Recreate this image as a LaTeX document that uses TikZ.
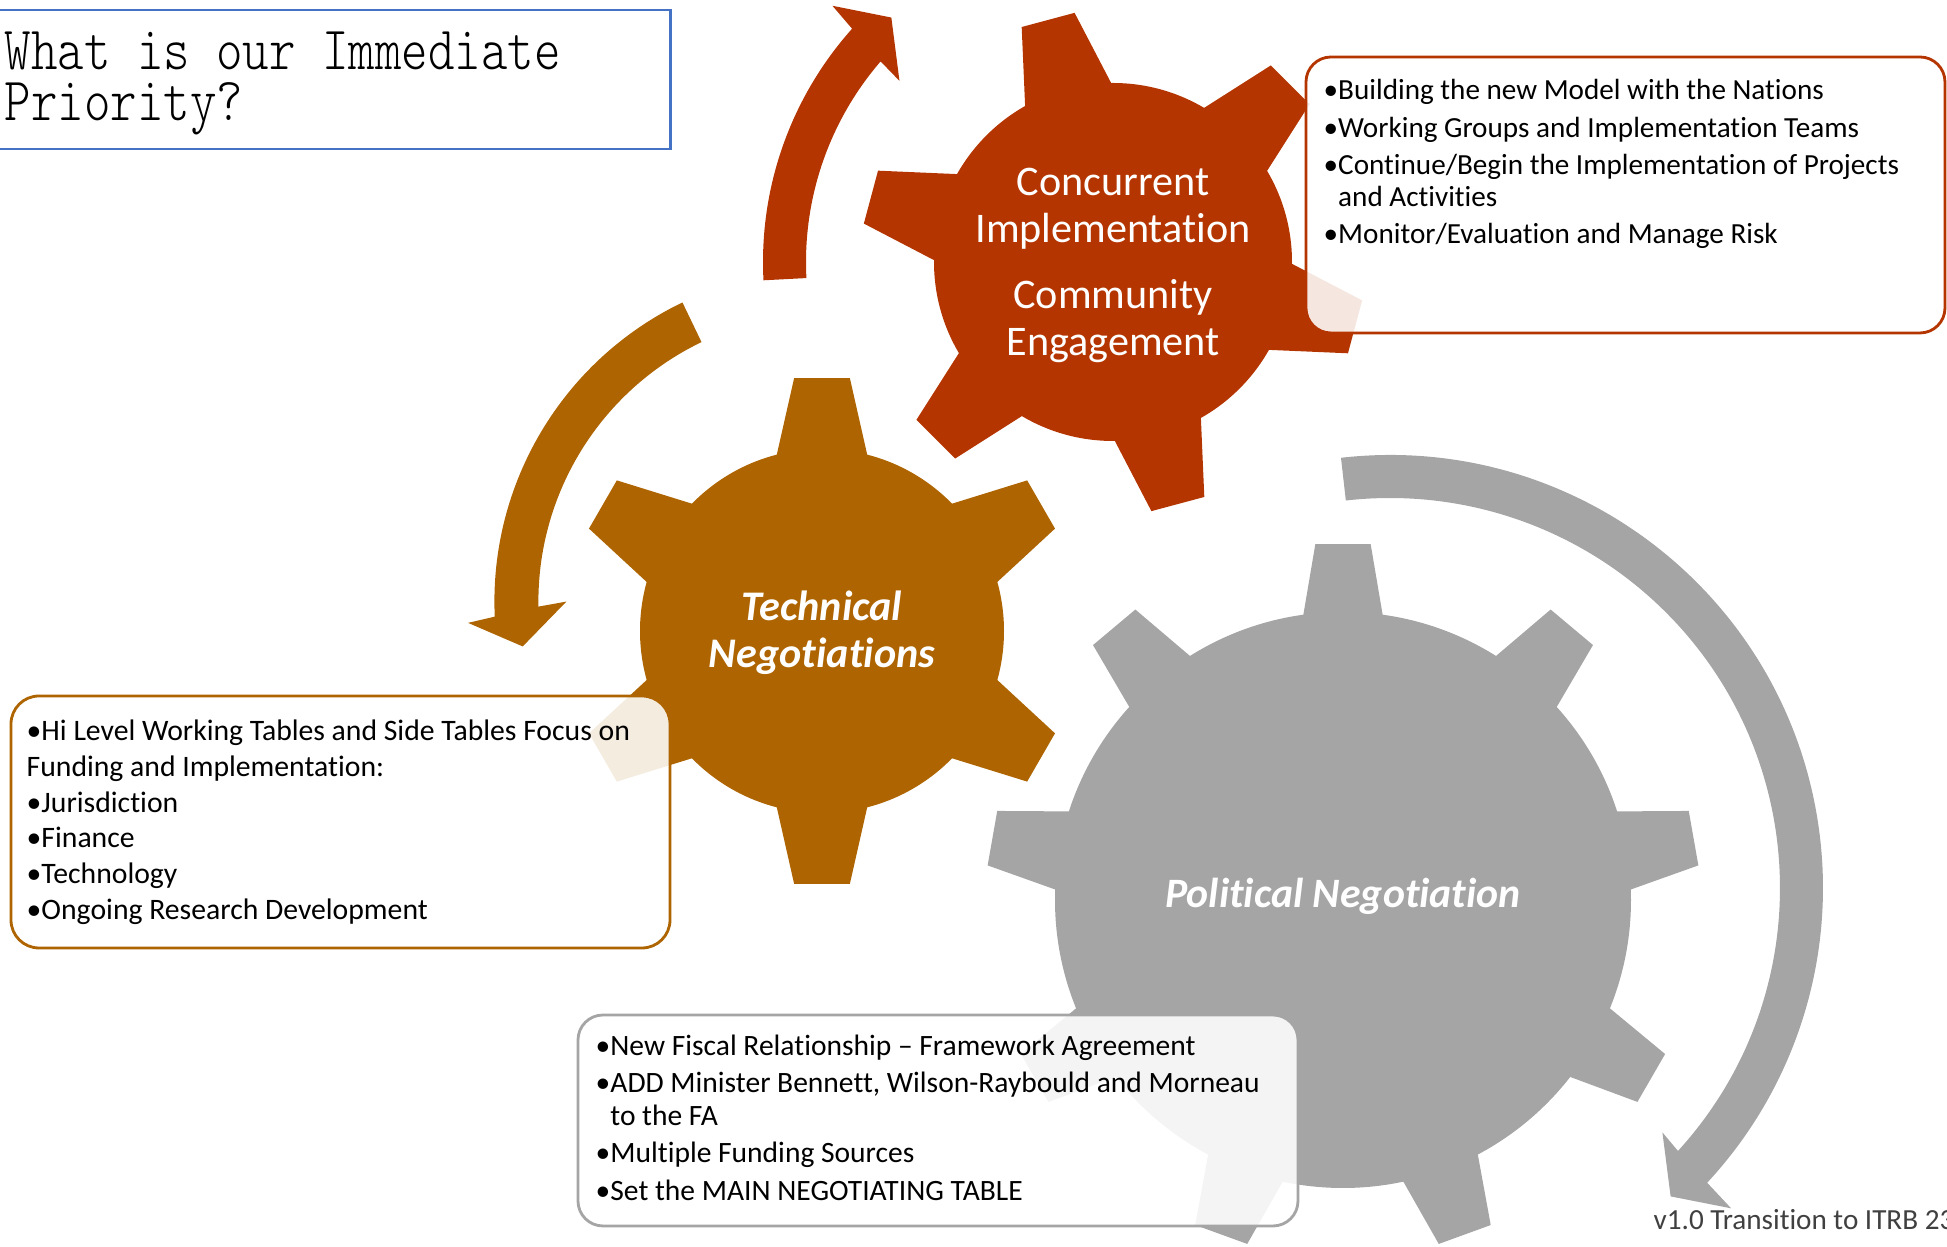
\documentclass[tikz,border=0pt]{standalone}
\usepackage{fontspec}
\setmainfont{Carlito}[Ligatures={NoCommon,NoContextual,NoRequired}, RawFeature={-liga;-clig;-dlig;-calt}]
\newfontfamily\asktitle{lmmonolt10-regular.otf}[FakeStretch=0.82]
\definecolor{rust}{RGB}{180,53,0}
\definecolor{ochre}{RGB}{174,100,0}
\definecolor{stone}{RGB}{165,165,165}
\definecolor{slideblue}{RGB}{68,114,196}
\definecolor{footgrey}{RGB}{64,64,64}

\begin{document}
\begin{tikzpicture}[
  gearlabel/.style={text=white, align=center, inner sep=0pt},
  notebox/.style={rounded corners=0.25cm, line width=0.8pt, fill=white, fill opacity=0.88},
  notetext/.style={align=left, inner sep=0pt, anchor=north west}
]
\useasboundingbox (0,0) rectangle (19.47,12.47);

\coordinate (redhub) at (11.13,9.85);
\coordinate (ochrehub) at (8.22,6.16);
\coordinate (stonehub) at (13.43,3.47);

% turning arrows round the gears
\begin{scope}[shift={(11.13,9.85)}]
\fill[rust] (183:3.50) arc[start angle=183, end angle=138.2, radius=3.50]
  -- (137.6:3.80) -- (132.2:3.30) -- (139.7:2.80) -- (139.2:3.07)
  arc[start angle=139.2, end angle=183, radius=3.07] -- cycle;
\end{scope}
\begin{scope}[shift={(8.264,6.454)}]
\fill[ochre] (115.7:3.32) arc[start angle=115.7, end angle=182.6, radius=3.32]
  -- (183.4:3.59) -- (188.4:3.07) -- (180:2.60) -- (181:2.88)
  arc[start angle=181, end angle=115.7, radius=2.88] -- cycle;
\end{scope}
\begin{scope}[shift={(13.90,3.59)}]
\fill[stone] (96.5:4.33) arc[start angle=96.5, end angle=-42.9, radius=4.33]
  -- (-43.2:4.68) -- (-47.7:4.17) -- (-41.9:3.66) -- (-42.4:3.90)
  arc[start angle=-42.4, end angle=96.5, radius=3.90] -- cycle;
\end{scope}

% gears
\begin{scope}[shift={(stonehub)}, scale=2.88]
\fill[stone] (0,0) circle (1);
\foreach \a in {10,50,...,330}
  \fill[stone, rotate=\a] (0.9,-0.153) -- (1.236,-0.096) -- (1.236,0.096) -- (0.9,0.153) -- cycle;
\end{scope}
\begin{scope}[shift={(ochrehub)}, scale=1.82]
\fill[ochre] (0,0) circle (1);
\foreach \a in {30,90,...,330}
  \fill[ochre, rotate=\a] (0.9,-0.264) -- (1.39,-0.153) -- (1.39,0.153) -- (0.9,0.264) -- cycle;
\end{scope}
\begin{scope}[shift={(redhub)}, scale=1.79]
\fill[rust] (0,0) circle (1);
\foreach \a in {45,105,...,345}
  \fill[rust, rotate=\a] (0.9,-0.264) -- (1.40,-0.153) -- (1.40,0.153) -- (0.9,0.264) -- cycle;
\end{scope}

\node[gearlabel, font=\fontsize{12}{13.3}\selectfont] (redlabel) at (11.13,9.815)
  {Concurrent\\Implementation\\[5.4pt]Community\\Engagement};
\node[gearlabel, font=\fontsize{12}{13.3}\selectfont\bfseries\itshape] (ochrelabel) at (8.22,6.14)
  {Technical\\Negotiations};
\node[gearlabel, anchor=base, font=\fontsize{11.9}{13}\selectfont\bfseries\itshape] (stonelabel) at (13.43,3.39)
  {Political Negotiation};

% note boxes
\draw[notebox, draw=rust] (13.06,11.90) rectangle (19.45,9.14);
\draw[notebox, draw=ochre, rounded corners=0.28cm] (0.11,5.51) rectangle (6.70,2.99);
\draw[notebox, draw=stone] (5.78,2.32) rectangle (12.98,0.21);

\node[notetext, font=\fontsize{8.3}{9}\selectfont] (nationsnotes) at (13.23,11.685)
  {•Building the new Model with the Nations\\[1.7pt]
   •Working Groups and Implementation Teams\\[1.7pt]
   •Continue/Begin the Implementation of Projects\\
   \phantom{•}and Activities\\[1.7pt]
   •Monitor/Evaluation and Manage Risk};
\node[notetext, font=\fontsize{8.45}{10.2}\selectfont] (tablenotes) at (0.26,5.28)
  {•Hi Level Working Tables and Side Tables Focus on\\
   Funding and Implementation:\\
   •Jurisdiction\\
   •Finance\\
   •Technology\\
   •Ongoing Research Development};
\node[notetext, font=\fontsize{8.4}{9.2}\selectfont] (fiscalnotes) at (5.95,2.13)
  {•New Fiscal Relationship – Framework Agreement\\[1.5pt]
   •ADD Minister Bennett, Wilson-Raybould and Morneau\\
   \phantom{•}to the FA\\[1.5pt]
   •Multiple Funding Sources\\[1.5pt]
   •Set the MAIN NEGOTIATING TABLE};

% title and footer
\draw[slideblue, line width=0.8pt] (-0.05,12.37) rectangle (6.705,10.98);
\node[notetext, font=\asktitle\fontsize{17.5}{14.6}\selectfont] (question) at (0.04,12.16)
  {What is our Immediate\\Priority?};
\node[anchor=base west, inner sep=0pt, text=footgrey, font=\fontsize{8.3}{9.6}\selectfont] (version) at (16.53,0.17)
  {v1.0 Transition to ITRB 23};
\end{tikzpicture}
\end{document}
